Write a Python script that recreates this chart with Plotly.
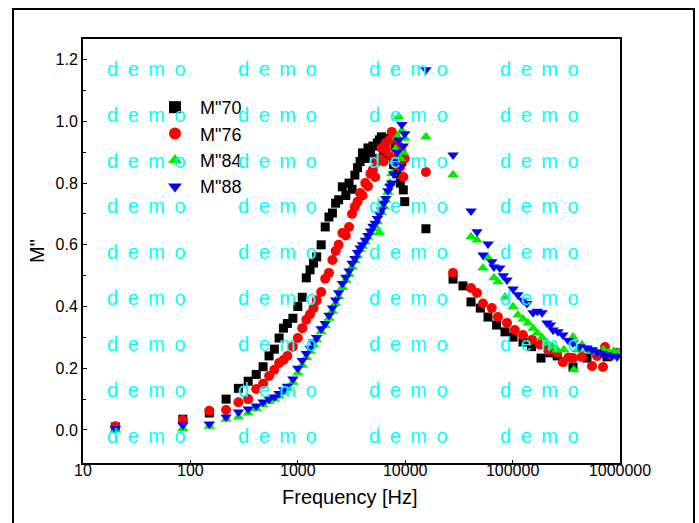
import plotly.graph_objects as go

# ---- data -------------------------------------------------------------
# low-frequency sweep (Hz), shared by all four samples
freq_low = [20, 85, 150, 215, 280, 345, 410, 475, 540, 605, 670, 735, 800, 900,
            1000, 1100, 1200, 1300, 1400, 1500, 1650, 1800, 1950, 2100, 2250,
            2400, 2600, 2800, 3000, 3200, 3400, 3600, 3800, 4000, 4250, 4500,
            4750, 5000, 5250, 5500, 5750, 6000, 6300, 6600, 6900, 7200, 7500,
            7800, 8100, 8400, 8700, 9000, 9300, 9600, 9900]

m70_low = [0.010, 0.035, 0.055, 0.100, 0.135, 0.158, 0.180, 0.205, 0.240, 0.262,
           0.298, 0.330, 0.345, 0.362, 0.400, 0.430, 0.493, 0.519, 0.541, 0.561,
           0.600, 0.658, 0.690, 0.703, 0.735, 0.746, 0.788, 0.760, 0.800, 0.780,
           0.826, 0.850, 0.870, 0.898, 0.880, 0.914, 0.900, 0.920, 0.880, 0.930,
           0.940, 0.950, 0.900, 0.930, 0.890, 0.945, 0.956, 0.860, 0.920, 0.830,
           0.900, 0.800, 0.870, 0.778, 0.740]

m76_low = [0.012, 0.032, 0.062, 0.065, 0.090, 0.100, 0.133, 0.150, 0.175, 0.195,
           0.217, 0.227, 0.240, 0.270, 0.298, 0.330, 0.357, 0.375, 0.395, 0.420,
           0.447, 0.490, 0.509, 0.551, 0.580, 0.600, 0.638, 0.630, 0.658, 0.700,
           0.723, 0.740, 0.768, 0.760, 0.800, 0.790, 0.830, 0.843, 0.820, 0.870,
           0.880, 0.914, 0.870, 0.930, 0.900, 0.940, 0.966, 0.880, 0.950, 0.860,
           0.920, 0.853, 0.900, 0.820, 0.880]

m84_low = [0.000, 0.005, 0.012, 0.035, 0.042, 0.055, 0.070, 0.082, 0.092, 0.100,
           0.110, 0.122, 0.135, 0.155, 0.185, 0.210, 0.235, 0.255, 0.275, 0.292,
           0.318, 0.338, 0.362, 0.385, 0.410, 0.432, 0.462, 0.485, 0.505, 0.528,
           0.548, 0.565, 0.585, 0.595, 0.610, 0.625, 0.640, 0.652, 0.660, 0.675,
           0.640, 0.705, 0.725, 0.745, 0.770, 0.800, 0.830, 0.870, 0.910, 0.950,
           1.015, 0.880, 0.970, 0.900, 0.945]

m88_low = [0.005, 0.016, 0.019, 0.042, 0.058, 0.068, 0.078, 0.091, 0.100, 0.107,
           0.118, 0.130, 0.142, 0.165, 0.200, 0.225, 0.248, 0.265, 0.285, 0.300,
           0.328, 0.345, 0.372, 0.395, 0.421, 0.445, 0.475, 0.495, 0.515, 0.540,
           0.556, 0.575, 0.590, 0.600, 0.615, 0.630, 0.645, 0.660, 0.670, 0.685,
           0.700, 0.713, 0.735, 0.750, 0.775, 0.790, 0.800, 0.830, 0.870, 0.900,
           0.940, 0.853, 0.990, 0.920, 0.960]

# high-frequency sweep, one list per sample
freq70_high = [15600, 27900, 34500, 41000, 50000, 59000, 71000, 85000, 101000,
               125000, 150000, 184000, 223000, 260000, 365000, 493000, 757000]
m70_high = [0.652, 0.489, 0.467, 0.415, 0.395, 0.366, 0.340, 0.318, 0.301,
            0.285, 0.270, 0.233, 0.250, 0.240, 0.204, 0.233, 0.237]

freq76_high = [15600, 27900, 41000, 46600, 53000, 64000, 73000, 88700, 105000,
               125000, 152000, 180000, 214000, 259000, 294000, 330000, 365000,
               442000, 549000, 611000, 695000, 725000, 800000, 938000]
m76_high = [0.836, 0.509, 0.460, 0.444, 0.410, 0.395, 0.366, 0.347, 0.324,
            0.308, 0.292, 0.276, 0.259, 0.250, 0.220, 0.235, 0.233, 0.237,
            0.207, 0.240, 0.204, 0.269, 0.245, 0.250]

freq84_high = [15600, 27900, 41000, 46600, 53000, 59000, 67000, 73000, 85000,
               101000, 112000, 125000, 139000, 155000, 169000, 188000, 209000,
               235000, 259000, 300000, 365000, 372000, 400000, 442000, 493000,
               550000, 611000, 700000, 780000, 870000, 960000]
m84_high = [0.950, 0.827, 0.626, 0.616, 0.525, 0.558, 0.493, 0.480, 0.431,
            0.399, 0.373, 0.360, 0.347, 0.330, 0.314, 0.300, 0.282, 0.270,
            0.259, 0.260, 0.301, 0.195, 0.260, 0.276, 0.260, 0.255, 0.253,
            0.260, 0.250, 0.255, 0.250]

freq88_high = [15600, 27900, 41000, 46600, 53000, 59000, 64000, 67000, 76000,
               82000, 88700, 101000, 112000, 125000, 136000, 155000, 170000,
               188000, 209000, 225000, 238000, 265000, 294000, 330000, 365000,
               420000, 493000, 550000, 611000, 680000, 757000, 850000, 938000]
m88_high = [1.167, 0.891, 0.710, 0.642, 0.567, 0.603, 0.545, 0.528, 0.525,
            0.500, 0.486, 0.457, 0.438, 0.420, 0.410, 0.380, 0.385, 0.380,
            0.347, 0.340, 0.324, 0.318, 0.308, 0.290, 0.282, 0.270, 0.266,
            0.260, 0.253, 0.248, 0.243, 0.240, 0.237]

x_tickvals = [10, 100, 1000, 10000, 100000, 1000000]
x_ticktext = ["10", "100", "1000", "10000", "100000", "1000000"]

series = [
    ('M"70', freq_low + freq70_high, m70_low + m70_high, "black", "square", 9),
    ('M"76', freq_low + freq76_high, m76_low + m76_high, "red", "circle", 10),
    ('M"84', freq_low + freq84_high, m84_low + m84_high, "#00ee00", "triangle-up", 10),
    ('M"88', freq_low + freq88_high, m88_low + m88_high, "blue", "triangle-down", 10),
]

FONT = "Liberation Sans, Arial, sans-serif"

fig = go.Figure()
for name, xs, ys, color, symbol, size in series:
    fig.add_trace(go.Scatter(
        x=xs, y=ys, mode="markers", name="\u00a0" + name,
        marker=dict(color=color, symbol=symbol, size=size, line=dict(width=0)),
    ))

# plot area in pixels: left 83, right 620, top 39, bottom 463
L, R, T, B = 83, 620, 39, 463
W, H = 699, 523


def px_to_paper(px, py):
    return (px - L) / (R - L), (B - py) / (B - T)


# repeated cyan watermark text
wm_cols = [146, 277, 408, 539]
wm_rows = [69, 115, 161, 206, 252, 298, 344, 390, 436]
gap = "\u00a0\u2009"
wm_text = gap.join(["d", "e", "m", "o"])
annotations = []
for py in wm_rows:
    for px in wm_cols:
        ax_, ay_ = px_to_paper(px, py)
        annotations.append(dict(
            x=ax_, y=ay_, xref="paper", yref="paper", text=wm_text,
            showarrow=False, xanchor="center", yanchor="middle",
            font=dict(family=FONT, size=20, color="#00ffff"),
        ))

# axis titles
tx, ty = px_to_paper(350, 497)
annotations.append(dict(x=tx, y=ty, xref="paper", yref="paper",
                        text="Frequency [Hz]", showarrow=False,
                        xanchor="center", yanchor="middle",
                        font=dict(family=FONT, size=20, color="black")))
tx, ty = px_to_paper(37, 251)
annotations.append(dict(x=tx, y=ty, xref="paper", yref="paper",
                        text='M"', showarrow=False, textangle=-90,
                        xanchor="center", yanchor="middle",
                        font=dict(family=FONT, size=20, color="black")))

# outer frame around the whole graph page
fx0, fy0 = px_to_paper(13, 540)
fx1, fy1 = px_to_paper(694, 9)
shapes = [dict(type="rect", xref="paper", yref="paper",
               x0=fx0, y0=fy0, x1=fx1, y1=fy1,
               line=dict(color="black", width=2), fillcolor="rgba(0,0,0,0)")]

lx, ly = px_to_paper(155, 89)

fig.update_layout(
    width=W, height=H,
    margin=dict(l=L, r=W - R, t=T, b=H - B),
    paper_bgcolor="white", plot_bgcolor="white",
    font=dict(family=FONT, color="black"),
    showlegend=True,
    legend=dict(x=lx, y=ly, xanchor="left", yanchor="top",
                bgcolor="rgba(0,0,0,0)", font=dict(family=FONT, size=18),
                tracegroupgap=0, itemsizing="constant"),
    annotations=annotations,
    shapes=shapes,
    xaxis=dict(
        type="log", range=[1, 6],
        tickvals=x_tickvals, ticktext=x_ticktext,
        showline=True, linecolor="black", linewidth=2, mirror=True,
        ticks="inside", ticklen=3, tickcolor="black",
        showgrid=False, zeroline=False,
        tickfont=dict(family=FONT, size=16),
        ticklabelstandoff=-8,
    ),
    yaxis=dict(
        range=[-0.107, 1.267],
        tickvals=[0.0, 0.2, 0.4, 0.6, 0.8, 1.0, 1.2],
        ticktext=["0.0", "0.2", "0.4", "0.6", "0.8", "1.0", "1.2"],
        showline=True, linecolor="black", linewidth=2, mirror=True,
        ticks="inside", ticklen=4, tickcolor="black",
        minor=dict(tickvals=[0.1, 0.3, 0.5, 0.7, 0.9, 1.1], ticks="inside",
                   ticklen=3, tickcolor="black"),
        showgrid=False, zeroline=False,
        tickfont=dict(family=FONT, size=16),
    ),
)

fig.write_html("out.html")
